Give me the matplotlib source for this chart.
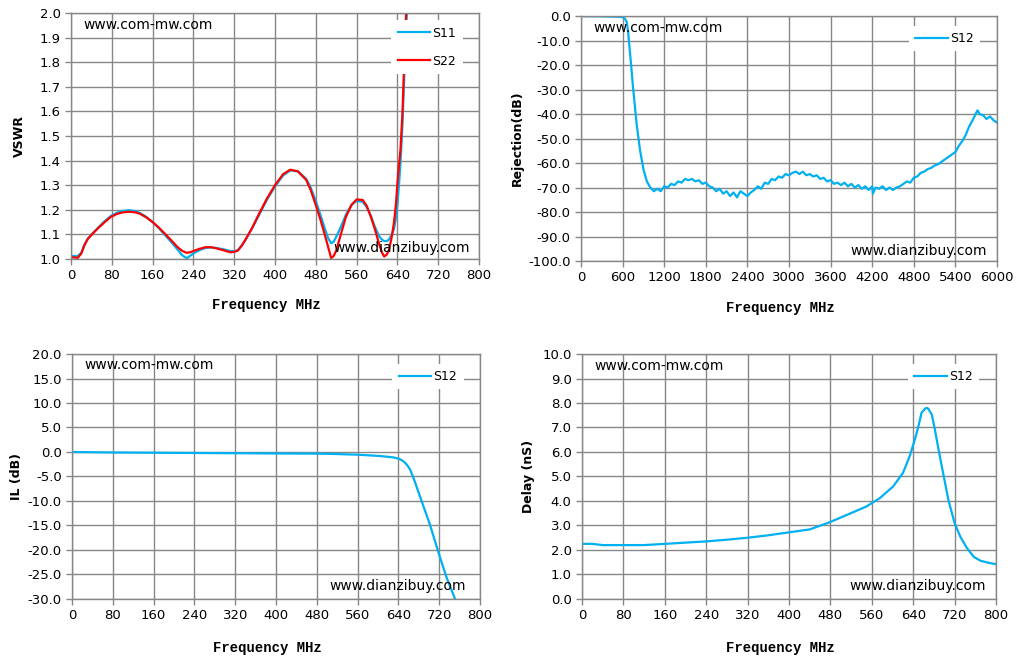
import matplotlib
matplotlib.use("Agg")
import matplotlib.pyplot as plt
from matplotlib.ticker import MultipleLocator, FormatStrFormatter

# ---- VSWR (top left) ----
vswr_f = [0, 8, 13, 20, 26, 33, 42, 52, 65, 78, 90, 100, 114, 125, 134, 147, 160, 172, 183,
          196, 209, 218, 227, 235, 242, 253, 264, 274, 284, 298, 313, 320, 327, 335, 343, 356,
          369, 384, 400, 416, 430, 445, 461, 470, 480, 489, 497, 504, 510, 515, 520, 529, 539,
          550, 560, 572, 580, 588, 596, 604, 610, 614, 619, 623, 628, 633, 637, 640, 643, 646,
          650, 653, 656, 658, 661]
s11 = [1.012, 1.012, 1.012, 1.025, 1.056, 1.083, 1.103, 1.125, 1.152, 1.175, 1.188, 1.195,
       1.198, 1.195, 1.188, 1.172, 1.15, 1.126, 1.1, 1.07, 1.038, 1.015, 1.003, 1.015, 1.025,
       1.037, 1.045, 1.047, 1.045, 1.04, 1.032, 1.032, 1.036, 1.055, 1.08, 1.128, 1.18, 1.24,
       1.295, 1.34, 1.36, 1.356, 1.326, 1.29, 1.235, 1.18, 1.128, 1.085, 1.064, 1.07, 1.09,
       1.13, 1.18, 1.22, 1.236, 1.232, 1.21, 1.175, 1.13, 1.093, 1.078, 1.073, 1.073, 1.078,
       1.095, 1.12, 1.165, 1.22, 1.3, 1.39, 1.55, 1.72, 1.88, 1.97, 2.1]
s22 = [1.007, 1.006, 1.004, 1.022, 1.055, 1.082, 1.102, 1.123, 1.148, 1.171, 1.183, 1.189,
       1.192, 1.19, 1.185, 1.17, 1.15, 1.128, 1.105, 1.077, 1.048, 1.033, 1.025, 1.028, 1.034,
       1.042, 1.048, 1.048, 1.044, 1.036, 1.027, 1.029, 1.034, 1.055, 1.082, 1.13, 1.185,
       1.245, 1.3, 1.345, 1.363, 1.356, 1.322, 1.28, 1.219, 1.16, 1.103, 1.05, 1.004, 1.012,
       1.034, 1.1, 1.171, 1.22, 1.242, 1.24, 1.215, 1.171, 1.12, 1.062, 1.025, 1.01, 1.018,
       1.034, 1.08, 1.144, 1.22, 1.308, 1.38, 1.445, 1.6, 1.78, 1.95, 2.05, 2.2]

# ---- Rejection (top right) ----
rej_f = [0, 300, 560, 600, 634, 660, 680, 700, 720, 750, 780, 800, 850, 900, 950,
         1000, 1050, 1100, 1150, 1200, 1250, 1300, 1350, 1400, 1450, 1500, 1550, 1600, 1650,
         1700, 1750, 1800, 1850, 1900, 1950, 2000, 2050, 2100, 2150, 2200, 2250, 2300, 2350,
         2400, 2450, 2500, 2550, 2600, 2650, 2700, 2750, 2800, 2850, 2900, 2950, 3000, 3050,
         3100, 3150, 3200, 3250, 3300, 3350, 3400, 3450, 3500, 3550, 3600, 3650, 3700, 3750,
         3800, 3850, 3900, 3950, 4000, 4050, 4100, 4150, 4200, 4210, 4250, 4300, 4350, 4400,
         4450, 4500, 4550, 4600, 4650, 4700, 4750, 4800, 4850, 4900, 4950, 5000, 5050, 5100,
         5150, 5200, 5250, 5300, 5350, 5400, 5450, 5500, 5550, 5600, 5650, 5700, 5720, 5750,
         5800, 5850, 5900, 5950, 6000]
rej = [0.0, -0.1, -0.3, -0.5, -1.0, -2.5, -6.5, -13, -19, -29, -37.5, -43.5, -54.5, -62.5, -67.5,
       -70, -71.5, -70.5, -71.5, -69.5, -70, -68.5, -69, -67.5, -68, -66.5, -67, -66.5, -67.5,
       -67, -68.5, -68, -69.5, -70, -71.5, -70.5, -72.5, -71.5, -73.5, -72, -74, -71.5, -72.5,
       -73.5, -72, -71, -69.5, -70.5, -68, -68.5, -66.5, -67, -65.5, -66, -64.5, -65, -64,
       -63.5, -64.5, -63.5, -65, -64.5, -65.5, -65, -66.5, -66, -67.5, -67, -68.5, -68, -69,
       -68, -69.5, -68.5, -70, -69, -70.5, -69.5, -71, -69.5, -72.5, -70, -70.5, -69.5, -71,
       -70, -71, -70, -69.5, -68.5, -67.5, -68, -66, -65.5, -64, -63.5, -62.5, -62, -61,
       -60.5, -59.5, -58.5, -57.5, -56.5, -55.5, -53, -51, -48.5, -45, -42.5, -39.5, -38.5, -40,
       -40.5, -42, -41, -42.5, -43.5]

# ---- Insertion loss (bottom left) ----
il_f = [0, 80, 160, 240, 320, 400, 480, 507, 560, 604, 630, 640, 647, 653, 658, 663, 672, 682,
        702, 720, 734, 751, 755]
il = [0.0, -0.1, -0.15, -0.2, -0.25, -0.3, -0.34, -0.38, -0.55, -0.82, -1.1, -1.35, -1.7, -2.2,
      -2.8, -3.6, -6.0, -9.0, -14.9, -21.0, -25.5, -30.0, -31.2]

# ---- Group delay (bottom right) ----
dl_f = [0, 20, 40, 80, 120, 160, 200, 240, 280, 320, 360, 400, 440, 477, 516, 549, 575, 601,
        620, 633, 643, 650, 656, 663, 666, 669, 676, 682, 689, 699, 708, 720, 731, 744, 757,
        770, 785, 800]
delay = [2.25, 2.25, 2.2, 2.2, 2.2, 2.25, 2.3, 2.35, 2.42, 2.5, 2.6, 2.72, 2.84, 3.12, 3.47,
         3.77, 4.11, 4.59, 5.14, 5.82, 6.5, 7.05, 7.6, 7.77, 7.8, 7.77, 7.52, 6.9, 6.09, 5.0,
         4.04, 3.09, 2.54, 2.07, 1.72, 1.56, 1.48, 1.42]

blue = "#00B0F0"
red = "#FF0000"
grid_c = "#878787"
tick_font = 9.5

fig = plt.figure(figsize=(10.22, 6.58), dpi=100)


def style(ax, xmax, xstep, ymin, ymax, ystep, yfmt, ylabel, ylab_x, xlab_y):
    ax.set_xlim(0, xmax)
    ax.set_ylim(ymin, ymax)
    ax.xaxis.set_major_locator(MultipleLocator(xstep))
    ax.yaxis.set_major_locator(MultipleLocator(ystep))
    ax.yaxis.set_major_formatter(FormatStrFormatter(yfmt))
    ax.grid(True, color=grid_c, linewidth=1)
    ax.set_axisbelow(True)
    for s in ax.spines.values():
        s.set_color(grid_c)
        s.set_linewidth(1)
    ax.tick_params(colors=grid_c, labelcolor="black", labelsize=tick_font, length=4, width=1)
    ax.set_ylabel(ylabel, fontsize=9, fontweight="bold")
    ax.yaxis.set_label_coords(ylab_x, 0.5)
    ax.set_xlabel("Frequency MHz", fontsize=10, fontweight="bold", family="Liberation Mono")
    ax.xaxis.set_label_coords(0.48, xlab_y)


def marks(ax, y1, x2, y2):
    ax.text(0.03, y1, "www.com-mw.com", transform=ax.transAxes, fontsize=10, va="center")
    ax.text(x2, y2, "www.dianzibuy.com", transform=ax.transAxes, fontsize=10,
            va="center", ha="right")


def legend(ax, anchor, spacing=0.5):
    lg = ax.legend(loc="upper right", bbox_to_anchor=anchor, fontsize=9, frameon=True,
                   fancybox=False, framealpha=1, edgecolor="white", handlelength=2.6,
                   handletextpad=0.2, labelspacing=spacing, borderpad=0.5)
    lg.get_frame().set_linewidth(0)


# top left
ax1 = fig.add_axes([0.0695, 0.6064, 0.3992, 0.3739])
ax1.plot(vswr_f, s11, color=blue, lw=1.6, label="S11")
ax1.plot(vswr_f, s22, color=red, lw=1.6, label="S22")
style(ax1, 800, 80, 1.0, 2.0, 0.1, "%.1f", "VSWR", -0.11, -0.16)
marks(ax1, 0.95, 0.978, 0.045)
legend(ax1, (0.975, 0.995), spacing=1.2)

# top right
ax2 = fig.add_axes([0.5685, 0.6033, 0.4070, 0.3723])
ax2.plot(rej_f, rej, color=blue, lw=1.6, label="S12")
style(ax2, 6000, 600, -100, 0, 10, "%.1f", "Rejection(dB)", -0.138, -0.165)
marks(ax2, 0.95, 0.976, 0.04)
legend(ax2, (0.975, 0.985))

# bottom left
ax3 = fig.add_axes([0.0705, 0.0897, 0.3992, 0.3723])
ax3.plot(il_f, il, color=blue, lw=1.6, label="S12")
style(ax3, 800, 80, -30, 20, 5, "%.1f", "IL (dB)", -0.12, -0.17)
marks(ax3, 0.955, 0.966, 0.053)
legend(ax3, (0.975, 0.985))

# bottom right
ax4 = fig.add_axes([0.5695, 0.0897, 0.4051, 0.3723])
ax4.plot(dl_f, delay, color=blue, lw=1.6, label="S12")
style(ax4, 800, 80, 0, 10, 1, "%.1f", "Delay (nS)", -0.113, -0.17)
marks(ax4, 0.95, 0.976, 0.053)
legend(ax4, (0.975, 0.985))

fig.savefig("out.png", dpi=100)
